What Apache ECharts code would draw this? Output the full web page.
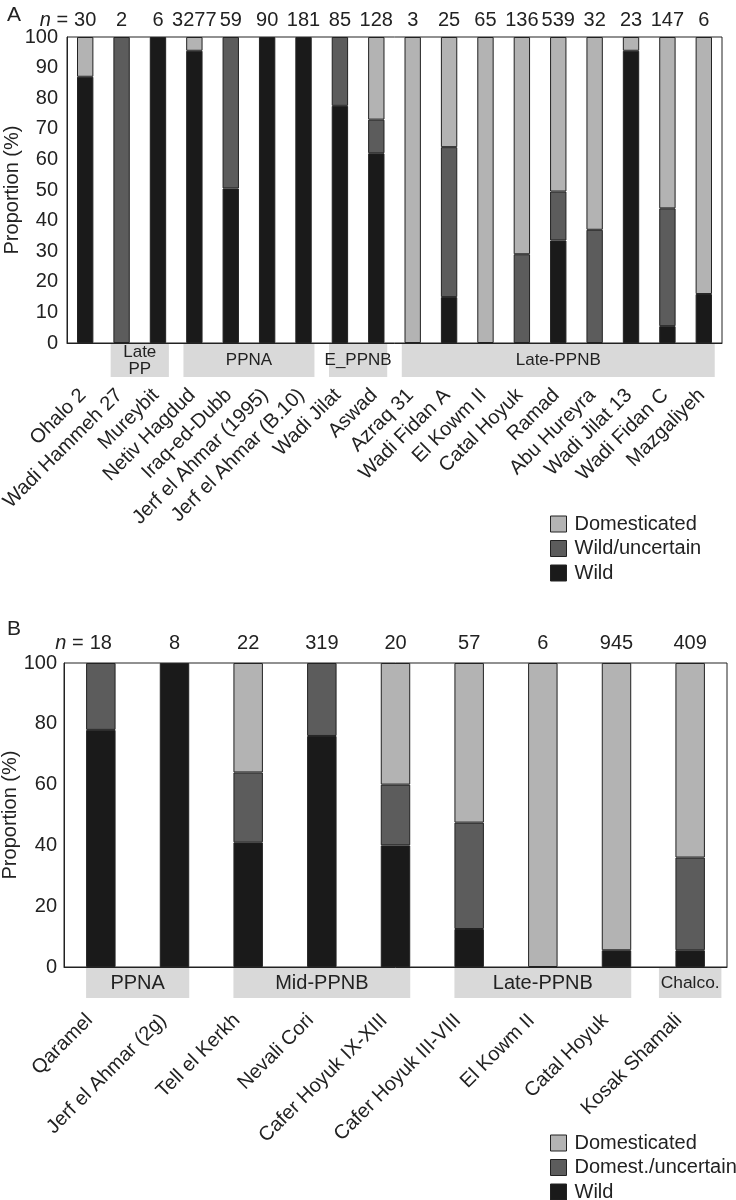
<!DOCTYPE html>
<html>
<head>
<meta charset="utf-8">
<script src="https://cdn.jsdelivr.net/npm/echarts@6/dist/echarts.min.js"></script>
<style>
body{margin:0;background:#fff;overflow:hidden;}
#chartA{position:absolute;left:0;top:0;width:736px;height:600px;}
#chartB{position:absolute;left:0;top:588px;width:736px;height:630px;}
</style>
</head>
<body>
<div id="chartA"></div>
<div id="chartB"></div>
<script>
// panel A
var sitesA = ["Ohalo 2", "Wadi Hammeh 27", "Mureybit", "Netiv Hagdud", "Iraq-ed-Dubb",
    "Jerf el Ahmar (1995)", "Jerf el Ahmar (B.10)", "Wadi Jilat", "Aswad", "Azraq 31",
    "Wadi Fidan A", "El Kowm II", "Catal Hoyuk", "Ramad", "Abu Hureyra", "Wadi Jilat 13",
    "Wadi Fidan C", "Mazgaliyeh"];
var nA = [30, 2, 6, 3277, 59, 90, 181, 85, 128, 3, 25, 65, 136, 539, 32, 23, 147, 6];
var wildA = [87, 0, 100, 95.5, 50.5, 100, 100, 77.5, 62, 0, 15, 0, 0, 33.5, 0, 95.5, 5.5, 16];
var uncA  = [0, 100, 0, 0, 49.5, 0, 0, 22.5, 11, 0, 49, 0, 29, 16, 37, 0, 38.5, 0];
var domA  = [13, 0, 0, 4.5, 0, 0, 0, 0, 27, 100, 36, 100, 71, 50.5, 63, 4.5, 56, 84];
var periodsA = [[1, 2, "Late\nPP"], [3, 6, "PPNA"], [7, 8, "E_PPNB"], [9, 17, "Late-PPNB"]];
var ticksA = [0, 10, 20, 30, 40, 50, 60, 70, 80, 90, 100];

// panel B
var sitesB = ["Qaramel", "Jerf el Ahmar (2g)", "Tell el Kerkh", "Nevali Cori", "Cafer Hoyuk IX-XIII",
    "Cafer Hoyuk III-VIII", "El Kowm II", "Catal Hoyuk", "Kosak Shamali"];
var nB = [18, 8, 22, 319, 20, 57, 6, 945, 409];
var wildB = [78, 100, 41, 76, 40, 12.5, 0, 5.5, 5.5];
var uncB  = [22, 0, 23, 24, 20, 35, 0, 0, 30.5];
var domB  = [0, 0, 36, 0, 40, 52.5, 100, 94.5, 64];
var periodsB = [[0, 1, "PPNA"], [2, 4, "Mid-PPNB"], [5, 7, "Late-PPNB"], [8, 8, "Chalco."]];
var ticksB = [0, 20, 40, 60, 80, 100];

var FONT = "'Liberation Sans', Arial, Helvetica, sans-serif";
var INK = "#222";
var FS = 20;
var C_DOM = "#b3b3b3", C_UNC = "#5c5c5c", C_WILD = "#1a1a1a";

function barSeries(name, data, color, width) {
    return {
        name: name,
        type: "bar",
        stack: "p",
        barWidth: width,
        data: data.map(function (v) { return v === 0 ? "-" : v; }),
        itemStyle: { color: color, borderColor: INK, borderWidth: 1 },
        emphasis: { disabled: true },
        animation: false
    };
}

function nSeries(counts, gap) {
    return {
        type: "custom",
        silent: true,
        animation: false,
        clip: false,
        encode: { x: 0, y: 1 },
        data: counts.map(function (n, i) { return [i, 100, n]; }),
        renderItem: function (params, api) {
            var p = api.coord([api.value(0), 100]);
            var s = String(api.value(2));
            var kids = [{
                type: "text",
                style: { text: s, x: p[0], y: p[1] - gap, align: "center", verticalAlign: "middle",
                    fontSize: FS, fontFamily: FONT, fill: INK }
            }];
            if (params.dataIndex === 0) {
                kids.push({
                    type: "text",
                    style: { text: "{i|n} =", x: p[0] - s.length * 0.278 * FS - 6, y: p[1] - gap,
                        align: "right", verticalAlign: "middle", fontSize: FS, fontFamily: FONT, fill: INK,
                        rich: { i: { fontStyle: "italic", fontSize: FS, fontFamily: FONT, fill: INK } } }
                });
            }
            return { type: "group", children: kids };
        }
    };
}

function bandSeries(periods, pad, h, fs) {
    return {
        type: "custom",
        silent: true,
        animation: false,
        clip: false,
        encode: { x: 0, y: 2 },
        data: periods.map(function (d) { return [d[0], d[1], 0]; }),
        renderItem: function (params, api) {
            var s = api.coord([api.value(0), 0]);
            var e = api.coord([api.value(1), 0]);
            var w = api.size([1, 0])[0];
            var left = s[0] - w * pad, right = e[0] + w * pad;
            var label = periods[params.dataIndex][2];
            var longest = Math.max.apply(null, label.split("\n").map(function (t) { return t.length; }));
            var f = fs;
            if (longest * 0.5 * f > right - left - 4) {
                // too narrow: smaller type and a band as wide as the text
                f = fs * 0.87;
                var tw = longest * 0.48 * f + 4;
                var mid = (left + right) / 2;
                left = Math.min(left, mid - tw / 2);
                right = Math.max(right, mid + tw / 2);
            }
            return {
                type: "group",
                children: [{
                    type: "rect",
                    shape: { x: left, y: s[1] + 1, width: right - left, height: h },
                    style: { fill: "#d9d9d9" }
                }, {
                    type: "text",
                    style: { text: label, x: (left + right) / 2, y: s[1] + 1 + h / 2,
                        align: "center", verticalAlign: "middle", fontSize: f, lineHeight: f,
                        fontFamily: FONT, fill: INK }
                }]
            };
        }
    };
}

function makeOption(o) {
    return {
        title: { text: o.tag, left: 2, top: o.tagTop, textStyle: { fontSize: 21, fontWeight: "normal", color: INK, fontFamily: FONT } },
        legend: {
            data: o.legend,
            orient: "vertical",
            left: 550,
            top: o.legendTop,
            padding: 0,
            icon: "rect",
            itemWidth: 16,
            itemHeight: 16,
            itemGap: 4.5,
            selectedMode: false,
            itemStyle: { borderColor: INK, borderWidth: 1 },
            textStyle: { fontSize: FS, color: INK, fontFamily: FONT, padding: [0, 0, 0, 3] }
        },
        grid: { left: o.grid[0], right: o.grid[1], top: o.grid[2], bottom: o.grid[3], show: true,
            outerBoundsMode: "none", containLabel: false,
            borderColor: INK, borderWidth: 1, backgroundColor: "transparent" },
        xAxis: {
            type: "category",
            data: o.sites,
            axisLine: { lineStyle: { color: INK } },
            axisTick: { show: false },
            axisLabel: { rotate: 45, interval: 0, margin: o.labelMargin, padding: [0, o.labelShift, 0, 0],
                fontSize: FS, color: INK, fontFamily: FONT }
        },
        yAxis: {
            type: "value",
            min: o.ticks[0],
            max: o.ticks[o.ticks.length - 1],
            interval: o.ticks[1] - o.ticks[0],
            splitLine: { show: false },
            axisTick: { show: false },
            axisLine: { show: true, lineStyle: { color: INK } },
            axisLabel: { fontSize: FS, color: INK, fontFamily: FONT, margin: o.yMargin },
            name: "Proportion (%)",
            nameLocation: "middle",
            nameGap: o.nameGap,
            nameMoveOverlap: false,
            nameTextStyle: { fontSize: FS, color: INK, fontFamily: FONT }
        },
        series: [
            barSeries("Wild", o.wild, C_WILD, o.barWidth),
            barSeries(o.legend[1], o.unc, C_UNC, o.barWidth),
            barSeries("Domesticated", o.dom, C_DOM, o.barWidth),
            nSeries(o.n, o.nGap),
            bandSeries(o.periods, o.pad, o.bandH, o.bandFs)
        ]
    };
}

var chartA = echarts.init(document.getElementById("chartA"));
chartA.setOption(makeOption({
    tag: "A", tagTop: 0, sites: sitesA, n: nA, wild: wildA, unc: uncA, dom: domA,
    periods: periodsA, ticks: ticksA, legend: ["Domesticated", "Wild/uncertain", "Wild"],
    legendTop: 514, grid: [67, 14, 37, 257], barWidth: "45%", labelMargin: 47, labelShift: 3,
    yMargin: 9, nameGap: 45, nGap: 17, pad: 0.3, bandH: 33, bandFs: 17
}));

var chartB = echarts.init(document.getElementById("chartB"));
chartB.setOption(makeOption({
    tag: "B", tagTop: 26, sites: sitesB, n: nB, wild: wildB, unc: uncB, dom: domB,
    periods: periodsB, ticks: ticksB, legend: ["Domesticated", "Domest./uncertain", "Wild"],
    legendTop: 545, grid: [64, 9, 75, 251], barWidth: "40%", labelMargin: 39, labelShift: 16,
    yMargin: 7, nameGap: 44, nGap: 20, pad: 0.2, bandH: 30, bandFs: 20
}));

window.addEventListener("resize", function () { chartA.resize(); chartB.resize(); });
</script>
</body>
</html>
